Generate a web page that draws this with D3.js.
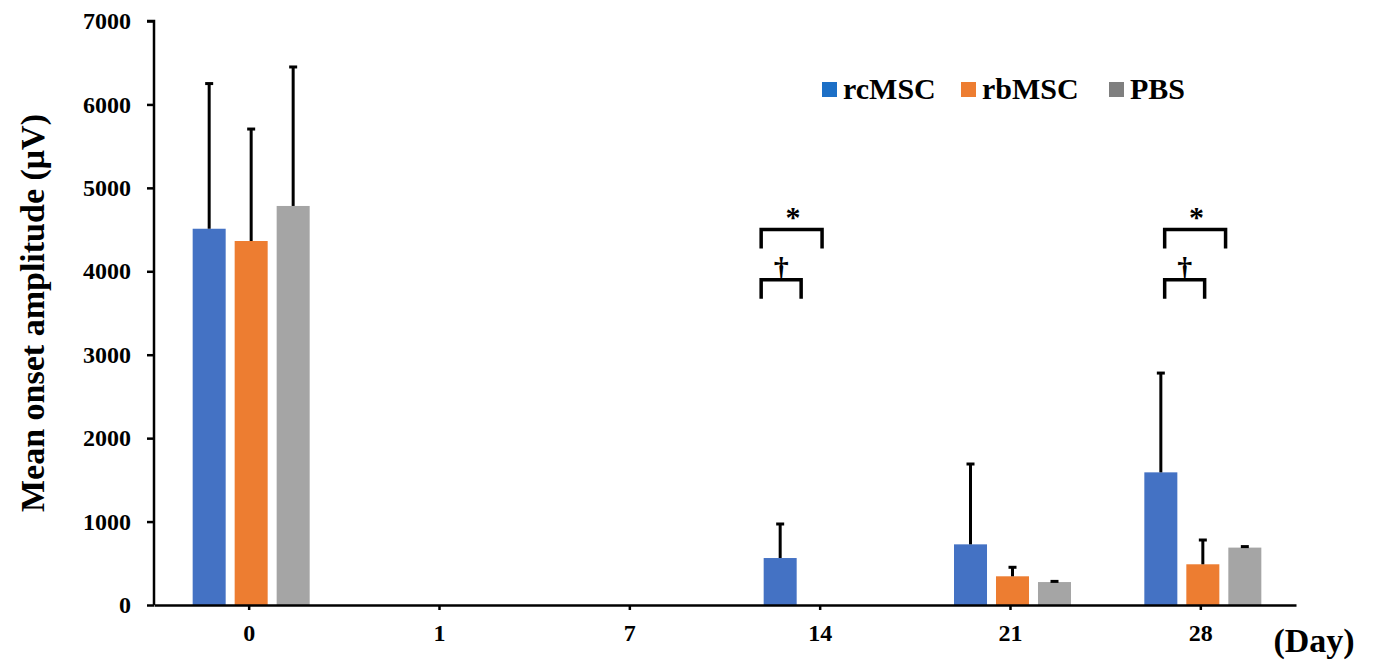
<!DOCTYPE html>
<html>
<head>
<meta charset="utf-8">
<script src="https://cdn.jsdelivr.net/npm/d3@7"></script>
<style>
  body { margin: 0; background: #fff; }
  text { font-family: "Liberation Serif", "Times New Roman", serif; font-weight: bold; }
</style>
</head>
<body>
<div id="chart"></div>
<script>
// Data
const days = ["0", "1", "7", "14", "21", "28"];
const groups = ["rcMSC", "rbMSC", "PBS"];
const rcMSC = [4510, 0, 0, 563, 727, 1590];
const rbMSC = [4363, 0, 0, 0, 344, 488];
const pbs = [4783, 0, 0, 0, 275, 688];
const rcMSCErr = [1740, 0, 0, 408, 963, 1190];
const rbMSCErr = [1342, 0, 0, 0, 108, 291];
const pbsErr = [1666, 0, 0, 0, 8, 12];
const yTicks = [0, 1000, 2000, 3000, 4000, 5000, 6000, 7000];

const barColors = ["#4472c4", "#ed7d31", "#a5a5a5"];
const legendColors = ["#1c6fc6", "#ed7d31", "#7f7f7f"];

// Significance brackets: day, start/end offset within the band (fraction of band width), height, symbol
const brackets = [
    { day: "14", x0: 0.19, x1: 0.51, y: 4500, label: "*" },
    { day: "14", x0: 0.19, x1: 0.40, y: 3900, label: "†" },
    { day: "28", x0: 0.31, x1: 0.63, y: 4500, label: "*" },
    { day: "28", x0: 0.31, x1: 0.52, y: 3900, label: "†" }
];

const width = 1374;
const height = 661;
const margin = { top: 21, right: 78, bottom: 56, left: 154 };

const svg = d3.select("#chart")
    .append("svg")
    .attr("width", width)
    .attr("height", height);

const x = d3.scaleBand()
    .domain(days)
    .range([margin.left, width - margin.right]);

const groupWidth = 117;
const xInner = d3.scaleBand()
    .domain(groups)
    .range([0, groupWidth])
    .paddingInner(0.214);

const y = d3.scaleLinear()
    .domain([0, 7000])
    .range([height - margin.bottom, margin.top]);

const series = [rcMSC, rbMSC, pbs];
const errors = [rcMSCErr, rbMSCErr, pbsErr];

const rows = [];
days.forEach((d, i) => {
    groups.forEach((g, j) => {
        rows.push({ day: d, group: g, value: series[j][i], err: errors[j][i], color: barColors[j] });
    });
});

const groupOffset = (x.bandwidth() - groupWidth) / 2 + 2;

// Bars
svg.append("g")
    .selectAll("rect")
    .data(rows.filter(r => r.value > 0))
    .enter()
    .append("rect")
    .attr("x", r => x(r.day) + groupOffset + xInner(r.group))
    .attr("y", r => y(r.value))
    .attr("width", xInner.bandwidth())
    .attr("height", r => y(0) - y(r.value))
    .attr("fill", r => r.color);

// Error bars
const errG = svg.append("g")
    .attr("stroke", "#000")
    .attr("stroke-width", 3);

rows.filter(r => r.value > 0).forEach(r => {
    const cx = x(r.day) + groupOffset + xInner(r.group) + xInner.bandwidth() / 2;
    errG.append("line")
        .attr("x1", cx).attr("x2", cx)
        .attr("y1", y(r.value)).attr("y2", y(r.value + r.err));
    errG.append("line")
        .attr("x1", cx - 4).attr("x2", cx + 4)
        .attr("y1", y(r.value + r.err)).attr("y2", y(r.value + r.err));
});

// Y axis
const yAxis = svg.append("g")
    .attr("transform", `translate(${margin.left},0)`)
    .call(d3.axisLeft(y).tickValues(yTicks).tickSize(7).tickPadding(16).tickFormat(d3.format("d")));
yAxis.selectAll("path, line").attr("stroke", "#000").attr("stroke-width", 2.5);
yAxis.select(".domain").attr("d", `M-7,${y(7000)}H0V${y(0)}`);
yAxis.selectAll("text")
    .attr("font-size", 24)
    .attr("font-family", "Liberation Serif, serif")
    .attr("font-weight", "bold")
    .attr("fill", "#000");

// X axis
const xAxis = svg.append("g")
    .attr("transform", `translate(0,${y(0)})`)
    .call(d3.axisBottom(x).tickSize(5).tickPadding(14).tickSizeOuter(0));
xAxis.selectAll("path, line").attr("stroke", "#000").attr("stroke-width", 2.5);
xAxis.selectAll("text")
    .attr("font-size", 24)
    .attr("font-family", "Liberation Serif, serif")
    .attr("font-weight", "bold")
    .attr("fill", "#000");

// Axis titles
svg.append("text")
    .attr("transform", `translate(44,${(y(0) + y(7000)) / 2}) rotate(-90)`)
    .attr("text-anchor", "middle")
    .attr("font-size", 34)
    .text("Mean onset amplitude (μV)");

svg.append("text")
    .attr("x", 1314)
    .attr("y", 652)
    .attr("text-anchor", "middle")
    .attr("font-size", 34)
    .text("(Day)");

// Significance brackets
brackets.forEach(b => {
    const bx0 = x(b.day) + b.x0 * x.bandwidth();
    const bx1 = x(b.day) + b.x1 * x.bandwidth();
    const by = y(b.y);
    svg.append("path")
        .attr("d", `M${bx0},${by + 19}V${by}H${bx1}V${by + 19}`)
        .attr("fill", "none")
        .attr("stroke", "#000")
        .attr("stroke-width", 3.5);
    svg.append("text")
        .attr("x", b.label === "*" ? bx1 - 29 : (bx0 + bx1) / 2)
        .attr("y", b.label === "*" ? by - 3 : by - 2)
        .attr("text-anchor", "middle")
        .attr("font-size", b.label === "*" ? 30 : 30)
        .text(b.label);
});

// Legend
const legendX = [822, 961, 1109];
const legend = svg.append("g");
groups.forEach((g, i) => {
    legend.append("rect")
        .attr("x", legendX[i])
        .attr("y", 82)
        .attr("width", 15)
        .attr("height", 15)
        .attr("fill", legendColors[i]);
    legend.append("text")
        .attr("x", legendX[i] + 21)
        .attr("y", 99)
        .attr("font-size", 30)
        .text(g);
});
</script>
</body>
</html>
